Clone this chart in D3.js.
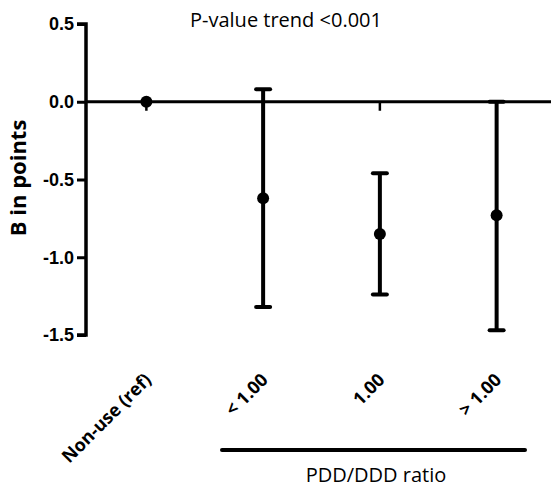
<!DOCTYPE html>
<html>
<head>
<meta charset="utf-8">
<script src="https://cdn.jsdelivr.net/npm/d3@7"></script>
<style>
  body { margin: 0; background: #fff; }
  svg { font-family: "Open Sans", Lato, sans-serif; }
</style>
</head>
<body>
<div id="chart"></div>
<script>
// data
let categories = ['Non-use (ref)', '< 1.00', '1.00', '> 1.00'];
let estimates = [0, -0.62, -0.85, -0.73];
let lowerCI = [0, -1.32, -1.24, -1.47];
let upperCI = [0, 0.08, -0.46, 0.0];
let yTicks = [0.5, 0.0, -0.5, -1.0, -1.5];

let width = 551, height = 491;

let svg = d3.select('#chart')
  .append('svg')
  .attr('width', width)
  .attr('height', height);

// scales
let xScale = d3.scaleBand()
  .domain(categories)
  .range([88, 555]);

let yScale = d3.scaleLinear()
  .domain([-1.5, 0.5])
  .range([335, 24]);

// y axis
let yAxis = d3.axisLeft(yScale)
  .tickValues(yTicks)
  .tickFormat(d3.format('.1f'))
  .tickSize(9)
  .tickPadding(3);

let gy = svg.append('g')
  .attr('transform', 'translate(86,0)')
  .call(yAxis);
gy.select('.domain').attr('stroke-width', 3.5).attr('d', 'M-9,' + yScale(0.5) + 'H0V' + yScale(-1.5) + 'H-9');
gy.selectAll('.tick line').attr('stroke-width', 3);
gy.selectAll('.tick text')
  .attr('font-size', 18)
  .attr('font-weight', 'bold')
  .attr('fill', '#000')
  .text(d => d3.format('.1f')(d).replace('−', '-'));

// x axis along zero
let xAxis = d3.axisBottom(xScale).tickSize(9).tickFormat('');
let gx = svg.append('g')
  .attr('transform', 'translate(0,' + yScale(0) + ')')
  .call(xAxis);
gx.select('.domain').attr('stroke-width', 3).attr('d', 'M86,0H551');
gx.selectAll('.tick line').attr('stroke-width', 2.5);

// error bars
let cx = d => xScale(d) + xScale.bandwidth() / 2;

// rotated category labels
svg.selectAll('.xlabel')
  .data(categories)
  .enter()
  .append('text')
  .attr('class', 'xlabel')
  .attr('transform', d => 'translate(' + (cx(d) + 6) + ',381) rotate(-45)')
  .attr('text-anchor', 'end')
  .attr('font-size', 18)
  .attr('font-weight', 'bold')
  .text(d => d);

svg.selectAll('.err')
  .data(categories)
  .enter()
  .append('line')
  .attr('x1', cx)
  .attr('x2', cx)
  .attr('y1', (d, i) => yScale(upperCI[i]))
  .attr('y2', (d, i) => yScale(lowerCI[i]))
  .attr('stroke', '#000')
  .attr('stroke-width', 4);

['upper', 'lower'].forEach(function(side) {
  let vals = side === 'upper' ? upperCI : lowerCI;
  svg.selectAll('.cap-' + side)
    .data(categories.slice(1))
    .enter()
    .append('line')
    .attr('x1', d => cx(d) - 7)
    .attr('x2', d => cx(d) + 7)
    .attr('y1', (d, i) => yScale(vals[i + 1]))
    .attr('y2', (d, i) => yScale(vals[i + 1]))
    .attr('stroke', '#000')
    .attr('stroke-width', 4)
    .attr('stroke-linecap', 'round');
});

// points
svg.selectAll('.dot')
  .data(categories)
  .enter()
  .append('circle')
  .attr('cx', cx)
  .attr('cy', (d, i) => yScale(estimates[i]))
  .attr('r', 6)
  .attr('fill', '#000');

// y title
svg.append('text')
  .attr('transform', 'translate(26,' + yScale(-0.49) + ') rotate(-90)')
  .attr('text-anchor', 'middle')
  .attr('font-size', 22)
  .attr('font-weight', 'bold')
  .text('B in points');

// trend annotation
svg.append('text')
  .attr('x', 286)
  .attr('y', 27)
  .attr('text-anchor', 'middle')
  .attr('font-size', 20)
  .text('P-value trend <0.001');

// group bracket
svg.append('line')
  .attr('x1', 222)
  .attr('x2', 525)
  .attr('y1', 450)
  .attr('y2', 450)
  .attr('stroke', '#000')
  .attr('stroke-width', 4)
  .attr('stroke-linecap', 'round');

svg.append('text')
  .attr('x', 376)
  .attr('y', 482)
  .attr('text-anchor', 'middle')
  .attr('font-size', 20)
  .text('PDD/DDD ratio');
</script>
</body>
</html>
